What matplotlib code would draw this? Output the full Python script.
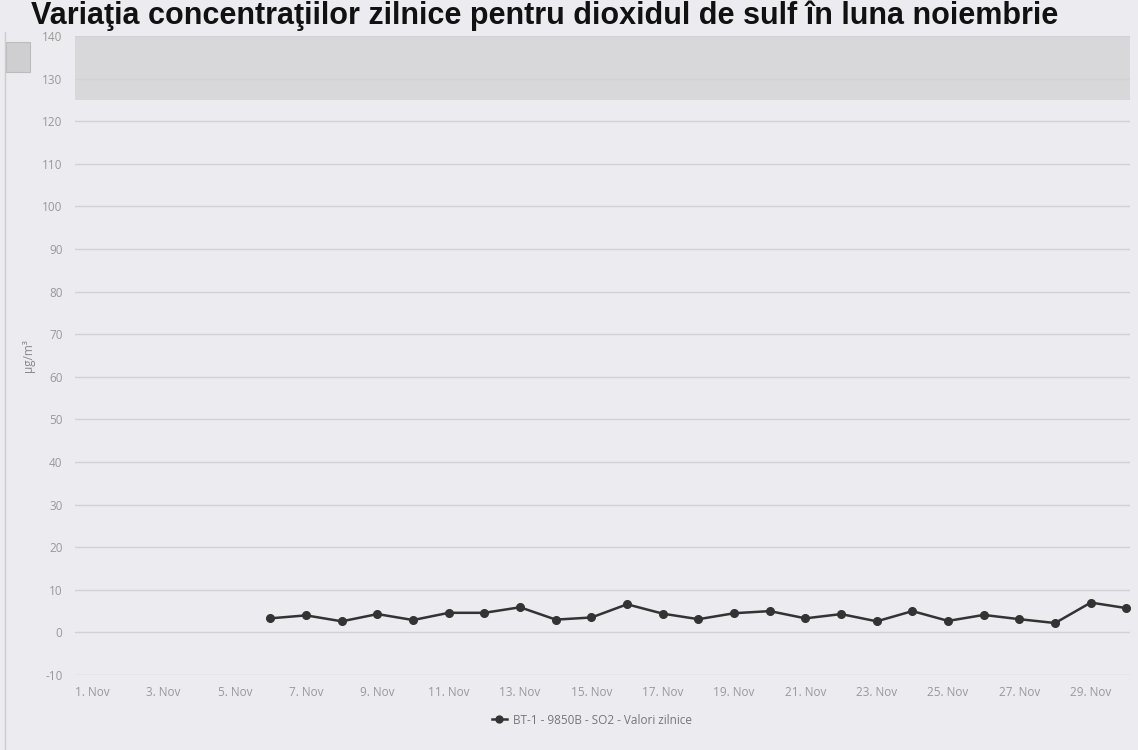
import matplotlib
matplotlib.use("Agg")
import matplotlib.pyplot as plt
from matplotlib.patches import Rectangle
from matplotlib.lines import Line2D

# ---- data ----
days = [6, 7, 8, 9, 10, 11, 12, 13, 14, 15, 16, 17, 18, 19, 20, 21, 22, 23, 24, 25, 26, 27, 28, 29, 30]
values = [3.3, 4.0, 2.6, 4.3, 2.9, 4.6, 4.6, 5.9, 3.0, 3.5, 6.6, 4.4, 3.1, 4.5, 5.0,
          3.3, 4.3, 2.6, 5.0, 2.7, 4.1, 3.1, 2.2, 7.0, 5.7]
tick_days = [1, 3, 5, 7, 9, 11, 13, 15, 17, 19, 21, 23, 25, 27, 29]
tick_labels = [f"{d}. Nov" for d in tick_days]
y_ticks = list(range(-10, 141, 10))
series_name = "BT-1 - 9850B - SO2 - Valori zilnice"
title = "Variaţia concentraţiilor zilnice pentru dioxidul de sulf în luna noiembrie"
y_label = "µg/m³"

bg = "#ECEBF0"
fig = plt.figure(figsize=(11.38, 7.5), dpi=100, facecolor=bg)
ax = fig.add_axes([75/1138, 1 - 675/750, (1130 - 75)/1138, (675 - 36)/750])
ax.set_facecolor(bg)

# top gray band (as in the scan)
ax.axhspan(125, 141, color="#D8D8DA", zorder=0.5, lw=0)

for yv in y_ticks:
    ax.axhline(yv, color="#D2D2D6", lw=1, zorder=1)

ax.plot(days, values, color="#333333", lw=1.8, marker="o", ms=5.5,
        markerfacecolor="#333333", markeredgecolor="#333333", zorder=3)

ax.set_xlim(0.52, 30.1)
ax.set_ylim(-10, 140)
ax.set_yticks(y_ticks)
ax.set_yticklabels([str(v) for v in y_ticks])
ax.set_xticks(tick_days)
ax.set_xticklabels(tick_labels)
ax.tick_params(axis="both", length=0, colors="#999999", labelsize=8.5)
for lab in ax.get_xticklabels() + ax.get_yticklabels():
    lab.set_fontfamily("Open Sans")
ax.tick_params(axis="y", pad=9)
ax.tick_params(axis="x", pad=8)
for s in ax.spines.values():
    s.set_visible(False)

ax.set_ylabel(y_label, color="#888888", fontsize=8.5, family="Open Sans")
ax.yaxis.set_label_coords(-0.038, 0.5)

# title
fig.text(0.027, 1 - 24/750, title, fontsize=22, fontweight="bold",
         family="Liberation Sans", color="#111111", ha="left", va="baseline", zorder=5)

# legend
handle = Line2D([], [], color="#333333", lw=1.8, marker="o", ms=5)
fig.legend([handle], [series_name], loc="center", bbox_to_anchor=(0.52, 1 - 720/750),
           frameon=False, prop={"family": "Open Sans", "size": 8.5}, labelcolor="#777777",
           handlelength=1.3, handletextpad=0.5)

# export button and left border
fig.patches.append(Rectangle((6/1138, 1 - 72/750), 24/1138, 30/750, transform=fig.transFigure,
                             facecolor="#CFCFD2", edgecolor="#BBBBBB", lw=0.8))
fig.lines.append(Line2D([5/1138, 5/1138], [0, 1 - 32/750], transform=fig.transFigure,
                        color="#CCCCCC", lw=1))

fig.savefig("out.png", dpi=100, facecolor=bg)
